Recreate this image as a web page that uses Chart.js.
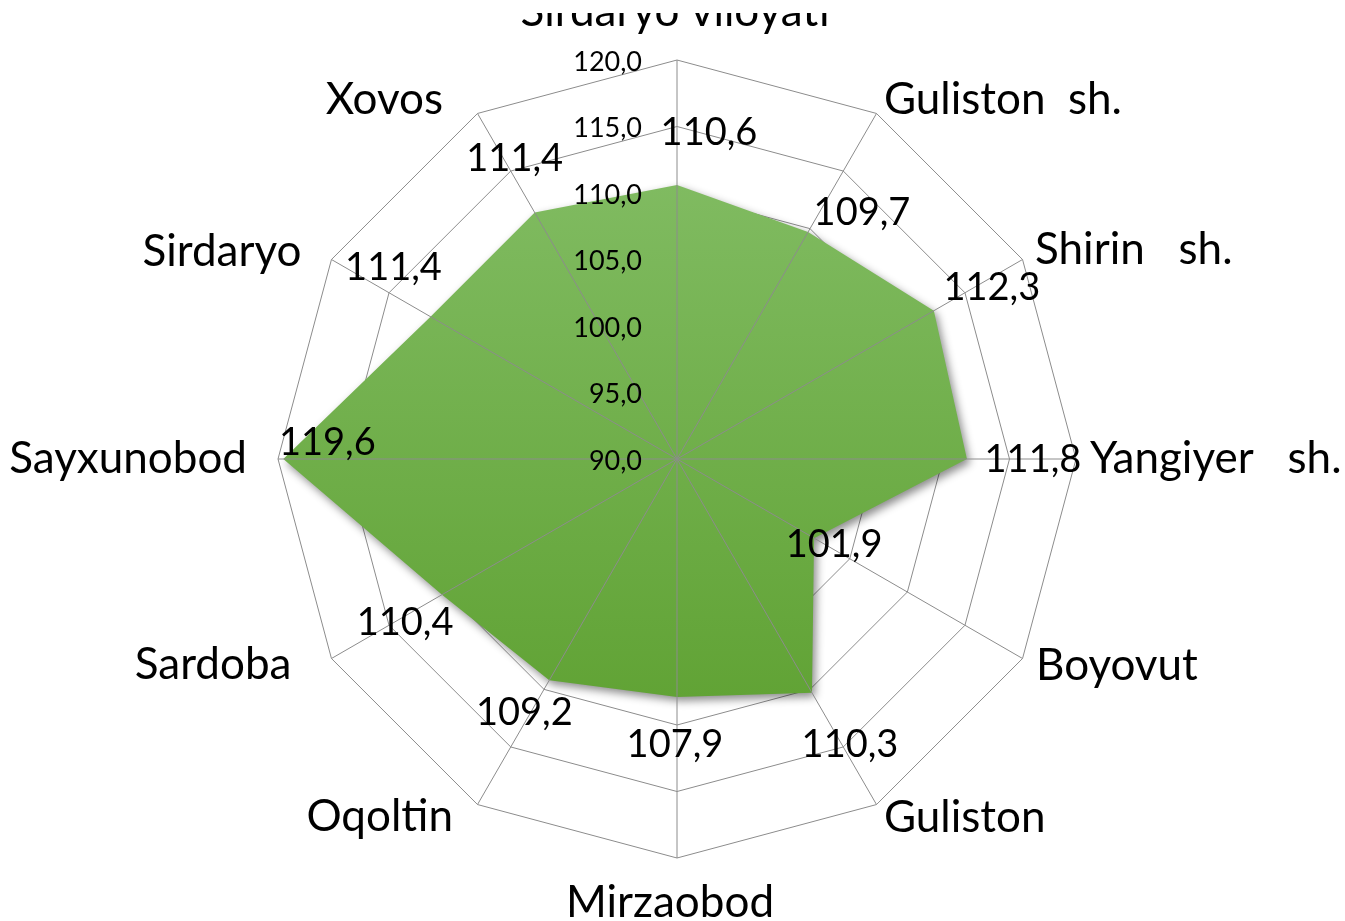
<!DOCTYPE html>
<html><head><meta charset="utf-8">
<script src="https://cdn.jsdelivr.net/npm/chart.js@4/dist/chart.umd.min.js"></script>
<style>html,body{margin:0;padding:0;background:#fff;overflow:hidden}</style>
</head><body>
<canvas id="c" width="1345" height="921"></canvas>
<script>
const categories = ['Sirdaryo viloyati', 'Guliston  sh.', 'Shirin   sh.', 'Yangiyer   sh.', 'Boyovut', 'Guliston', 'Mirzaobod', 'Oqoltin', 'Sardoba', 'Sayxunobod', 'Sirdaryo', 'Xovos'];
const values = [110.6, 109.7, 112.3, 111.8, 101.9, 110.3, 107.9, 109.2, 110.4, 119.6, 111.4, 111.4];
const tickValues = [90, 95, 100, 105, 110, 115, 120];
const tickLabels = ['90,0', '95,0', '100,0', '105,0', '110,0', '115,0', '120,0'];
const valueLabels = ['110,6', '109,7', '112,3', '111,8', '101,9', '110,3', '107,9', '109,2', '110,4', '119,6', '111,4', '111,4'];

// styling: label offsets (pixels) from each data point
const labelOffsets = [[32,-52],[54,-19],[58,-23],[66,1],[20,7],[38,52],[-2,48],[-25,33],[-37,28],[44,-16],[-37,-49],[-20,-54]];
// styling: category label offsets (pixels) from each outer vertex
const catOffsets = [[-2,-48],[7.5,-13.5],[12.5,-9.5],[14,0],[13.5,7.5],[7.5,13.5],[-7,45],[-24.5,12.5],[-40,6.5],[-31,0],[-30,-8],[-34.5,-13.5]];

const FONT = 'Lato, "Open Sans", sans-serif';

const overlay = {
  id: 'overlay',
  beforeDatasetsDraw(chart) {
    const ctx = chart.ctx;
    ctx.save();
    ctx.shadowColor = 'rgba(0,0,0,0.45)';
    ctx.shadowBlur = 8;
    ctx.shadowOffsetX = 3;
    ctx.shadowOffsetY = 4;
  },
  afterDatasetsDraw(chart) {
    const ctx = chart.ctx;
    ctx.restore();
    const s = chart.scales.r;
    const R = s.drawingArea;
    // spokes on top of the fill
    ctx.save();
    ctx.strokeStyle = '#8c8c8c';
    ctx.lineWidth = 1;
    for (let i = 0; i < categories.length; i++) {
      const p = s.getPointPosition(i, R);
      ctx.beginPath();
      ctx.moveTo(s.xCenter, s.yCenter);
      ctx.lineTo(p.x, p.y);
      ctx.stroke();
    }
    // tick labels
    ctx.fillStyle = '#000';
    ctx.font = '27px ' + FONT;
    ctx.textAlign = 'right';
    ctx.textBaseline = 'middle';
    tickValues.forEach((v, k) => {
      const d = s.getDistanceFromCenterForValue(v);
      ctx.fillText(tickLabels[k], s.xCenter - 35, s.yCenter - d + 2);
    });
    // data labels
    const meta = chart.getDatasetMeta(0);
    ctx.font = '38px ' + FONT;
    ctx.textAlign = 'center';
    meta.data.forEach((pt, i) => {
      ctx.fillText(valueLabels[i], pt.x + labelOffsets[i][0], pt.y + labelOffsets[i][1]);
    });
    // category labels
    ctx.font = '44px ' + FONT;
    ctx.textBaseline = 'middle';
    categories.forEach((c, i) => {
      const a = i / categories.length * Math.PI * 2;
      const sn = Math.sin(a);
      const p = s.getPointPosition(i, R);
      ctx.textAlign = Math.abs(sn) < 0.01 ? 'center' : (sn > 0 ? 'left' : 'right');
      ctx.save();
      if (i === 0) { // top label is cropped in the original picture
        ctx.beginPath();
        ctx.rect(0, 13, chart.width, chart.height);
        ctx.clip();
      }
      ctx.fillText(c, p.x + catOffsets[i][0], p.y + catOffsets[i][1]);
      ctx.restore();
    });
    ctx.restore();
  }
};

new Chart(document.getElementById('c'), {
  type: 'radar',
  data: {
    labels: categories,
    datasets: [{
      data: values,
      fill: true,
      clip: false,
      borderWidth: 0,
      pointRadius: 0,
      pointHoverRadius: 0,
      backgroundColor(ctx) {
        const c = ctx.chart.ctx;
        const g = c.createLinearGradient(0, 180, 0, 700);
        g.addColorStop(0, '#80bb61');
        g.addColorStop(1, '#61a335');
        return g;
      }
    }]
  },
  options: {
    responsive: false,
    devicePixelRatio: 1,
    animation: false,
    layout: { padding: { top: 60, bottom: 63, left: 278, right: 269 } },
    plugins: { legend: { display: false }, tooltip: { enabled: false } },
    scales: {
      r: {
        min: 90, max: 120,
        ticks: { display: false, stepSize: 5 },
        grid: { color: '#8c8c8c', lineWidth: 1 },
        angleLines: { display: false },
        pointLabels: { display: false }
      }
    }
  },
  plugins: [overlay]
});
</script>
</body></html>
